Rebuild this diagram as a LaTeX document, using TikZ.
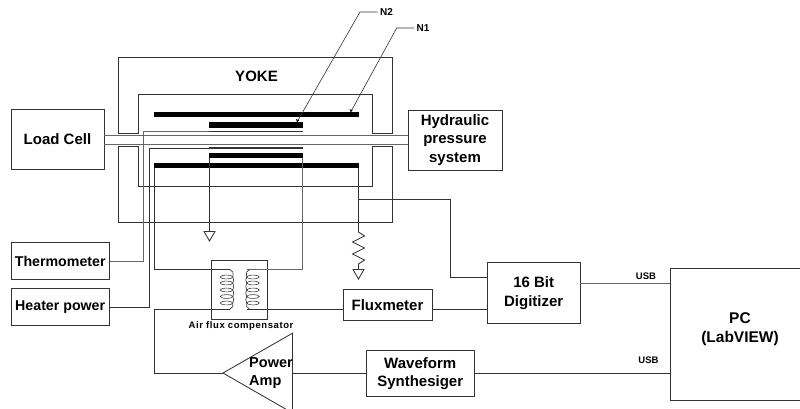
\documentclass[tikz,border=0pt]{standalone}
\usepackage{fontspec}
\setmainfont{Liberation Sans}
\tikzset{
  x=1pt,y=-1pt,
  ln/.style={draw=black!80,line width=0.85pt},
  pale/.style={draw=black!60,line width=1pt},
  wire/.style={ln,line join=miter},
  box/.style={ln,inner sep=0pt,align=center,font=\bfseries\fontsize{15}{18.5}\selectfont},
  smallbox/.style={box,font=\bfseries\fontsize{14.2}{18}\selectfont},
  bar/.style={fill=black,draw=none},
  lbl/.style={inner sep=0pt,outer sep=2.5pt,font=\bfseries\fontsize{10}{12}\selectfont},
  usblbl/.style={inner sep=0pt,font=\bfseries\fontsize{9.5}{11}\selectfont},
  gnd/.style={ln,fill=white}
}
\begin{document}
\begin{tikzpicture}
\useasboundingbox (0,0) rectangle (800,409);
\clip (0,0) rectangle (800,409);
% yoke
\draw[wire] (118.3,133.5) -- (118.3,57.5) -- (392.7,57.5) -- (392.7,133.5) -- (372.5,133.5) -- (372.5,94.5) -- (138.5,94.5) -- (138.5,133.5) -- cycle;
\draw[wire] (118.3,146.8) -- (118.3,222.7) -- (392.7,222.7) -- (392.7,146.8) -- (372.5,146.8) -- (372.5,186.3) -- (138.5,186.3) -- (138.5,146.8) -- cycle;
\node[font=\bfseries\fontsize{15}{18}\selectfont,inner sep=0pt] (yoke) at (256.5,76) {YOKE};
% boxes
\node[box,minimum width=93pt,minimum height=60pt] (load) at (57.5,139.5) {Load Cell};
\node[box,minimum width=94pt,minimum height=60pt] (hyd) at (455,140) {Hydraulic\\pressure\\system};
\node[smallbox,minimum width=98.5pt,minimum height=37.5pt] (thermo) at (60.2,261) {Thermometer};
\node[smallbox,minimum width=98.5pt,minimum height=37.5pt] (heater) at (60.2,307) {Heater power};
\node[box,minimum width=89pt,minimum height=31pt] (flux) at (387.5,304.7) {Fluxmeter};
\node[box,minimum width=108.5pt,minimum height=46pt] (wave) at (420.2,373.5) {Waveform\\Synthesiger};
\node[box,minimum width=92.7pt,minimum height=60.5pt] (dig) at (533.7,293) {16 Bit\\Digitizer};
\node[ln,inner sep=0pt,minimum width=139pt,minimum height=132.5pt] (pc) at (740,334.3) {};
\node[inner sep=0pt,align=center,font=\bfseries\fontsize{15.5}{19}\selectfont] (pclbl) at (740,329.5) {PC\\(LabVIEW)};
\node[ln,inner sep=0pt,minimum width=56pt,minimum height=58.5pt] (comp) at (239.5,289.75) {};
\node[usblbl] (complbl) at (241,326.5) {\addfontfeature{LetterSpace=6}Air flux compensator};
% rod
\draw[pale] (load.east |- 0,135.4) -- (hyd.west |- 0,135.4);
\draw[pale] (load.east |- 0,144.8) -- (hyd.west |- 0,144.8);
% windings
\fill[bar] (154,112.3) rectangle (358.5,117);
\fill[bar] (209,122.3) rectangle (302.5,127.7);
\fill[bar] (209,153) rectangle (302.5,158.3);
\fill[bar] (154,163.3) rectangle (358.5,168.3);
\coordinate (thbar) at (209,131.7);
\coordinate (thbarR) at (302.5,131.7);
\coordinate (hebar) at (209,148);
\coordinate (hebarR) at (302.5,148);
\draw[ln,line width=1.2pt] (thbar) -- (thbarR);
\draw[ln,line width=1.2pt] (hebar) -- (hebarR);
% sensor leads
\draw[pale] (thermo.east) -| (143.3,131.7) -- (thbar);
\draw[wire] (heater.east) -| (149.3,148) -- (hebar);
% ground of inner winding
\coordinate (g1) at (209.5,231.5);
\draw[wire] (209.5,158) -- (g1);
\draw[gnd] (204,231.5) -- (215,231.5) -- (209.5,241) -- cycle;
% coil loop
\coordinate (cL) at (230,269.7);
\coordinate (cR) at (247,269.7);
\draw[wire] (154.5,168) -- (154.5,269.7) -- (cL);
\draw[pale] (302.2,158) -- (302.2,269.7) -- (cR);
% coils
\foreach \cx/\s in {226.5/1,253/-1}{
  \foreach \yy in {277,283,290,296.5,303}{
    \draw[draw=black!75,line width=0.6pt] (\cx,\yy) ellipse [x radius=6.3pt,y radius=1.9pt];
  }
  \draw[draw=black!75,line width=0.7pt] (\cx+\s*3.5,269.7) .. controls (\cx+\s*6.5,270) and (\cx+\s*7,273) .. (\cx+\s*6.3,277)
     .. controls (\cx+\s*7.5,279) and (\cx+\s*7.5,281) .. (\cx+\s*6.3,283)
     .. controls (\cx+\s*7.5,285) and (\cx+\s*7.5,288) .. (\cx+\s*6.3,290)
     .. controls (\cx+\s*7.5,292) and (\cx+\s*7.5,294) .. (\cx+\s*6.3,296.5)
     .. controls (\cx+\s*7.5,298) and (\cx+\s*7.5,301) .. (\cx+\s*6.3,303)
     .. controls (\cx+\s*7,305) and (\cx+\s*6.5,308.5) .. (\cx+\s*3.5,309);
}
% flux line
\coordinate (fL) at (230,309);
\coordinate (fR) at (247,309);
\coordinate (ampTip) at (223,373);
\draw[wire] (fR) -- (flux.west |- fR);
\draw[wire] (fL) -- (154.5,309) -- (154.5,373) -- (ampTip);
% amp
\coordinate (ampTop) at (292.5,333.2);
\coordinate (ampBot) at (292.5,413);
\draw[ln] (ampTip) -- (ampTop) -- (ampBot) -- cycle;
\node[inner sep=0pt,align=left,font=\bfseries\fontsize{14.5}{18}\selectfont] (amp) at (271,373.5) {Power\\Amp};
\draw[wire] (ampTop |- ampTip) -- (wave.west |- ampTip);
\draw[wire] (wave.east |- ampTip) -- (pc.west |- ampTip);
% N1 signal + resistor
\coordinate (j) at (358.5,199);
\draw[wire] (358.5,168) -- (358.5,232) -- (364.5,236) -- (352.5,242) -- (364.5,248) -- (352.5,254) -- (364.5,260) -- (358.5,264) -- (358.5,269.5);
\draw[gnd] (353,269.5) -- (364,269.5) -- (358.5,279) -- cycle;
\draw[wire] (j) -- (450.5,199) -- (450.5,277) -- (dig.west |- 0,277);
\draw[wire] (flux.east |- 0,309.3) -- (dig.west |- 0,309.3);
\draw[pale] (dig.east |- 0,283.5) -- (pc.west |- 0,283.5);
% leaders
\node[lbl] (n2) at (386.5,12) {N2};
\node[lbl] (n1) at (423,28) {N1};
\coordinate (n2a) at (297,122);
\coordinate (n1a) at (350.7,112);
\draw[ln,line width=0.6pt] (n2a) -- (360,12) -- (n2.west);
\draw[ln,line width=0.6pt] (n1a) -- (396.7,28) -- (n1.west);
\fill (n2a) -- ++(-1,-3) -- ++(3,1.5) -- cycle;
\fill (n1a) -- ++(-1,-3) -- ++(3,1.5) -- cycle;
% USB
\node[usblbl] (usb1) at (646,276.3) {USB};
\node[usblbl] (usb2) at (648.5,360.7) {USB};
\end{tikzpicture}
\end{document}
